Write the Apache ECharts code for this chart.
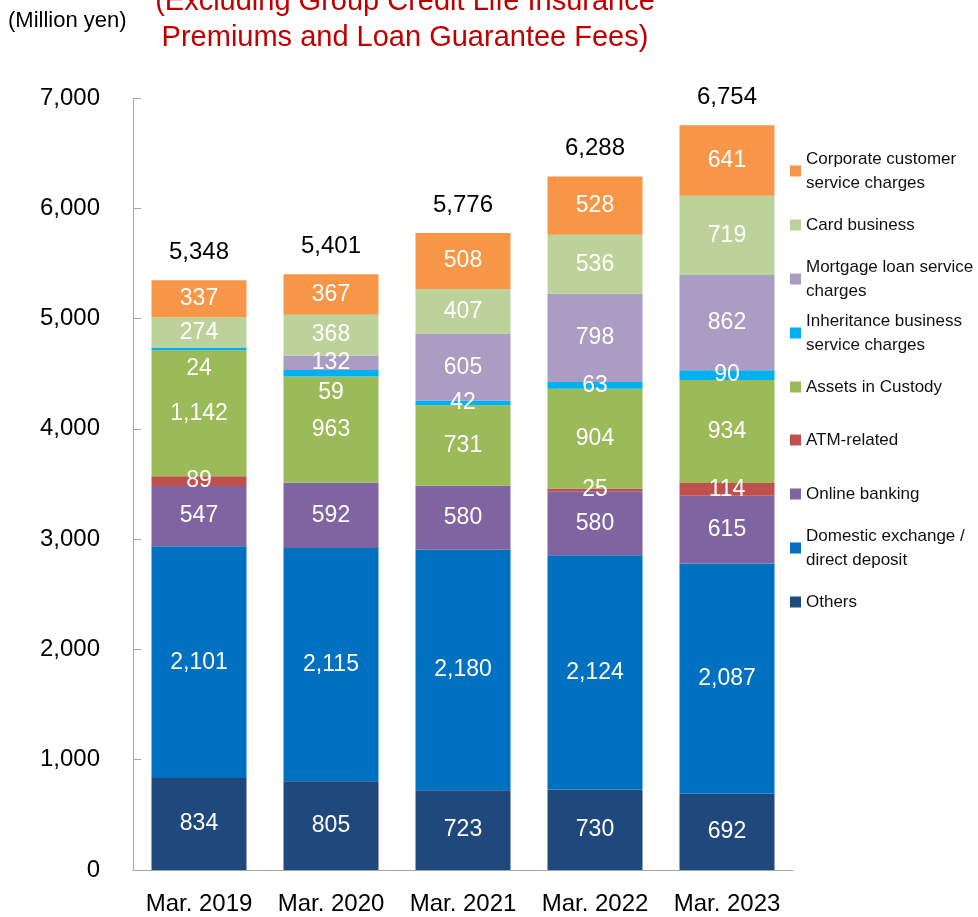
<!DOCTYPE html>
<html>
<head>
<meta charset="utf-8">
<script src="https://cdn.jsdelivr.net/npm/echarts@6/dist/echarts.min.js"></script>
<style>
  html, body { margin: 0; padding: 0; background: #fff; }
  #myChart { width: 978px; height: 917px; }
</style>
</head>
<body>
<div id="myChart"></div>
<script>
// 年度
const years = ["Mar. 2019", "Mar. 2020", "Mar. 2021", "Mar. 2022", "Mar. 2023"];

// 各項目（下から積み上げ）
const others = [834, 805, 723, 730, 692];
const domestic = [2101, 2115, 2180, 2124, 2087];
const online = [547, 592, 580, 580, 615];
const atm = [89, 0, 0, 25, 114];
const custody = [1142, 963, 731, 904, 934];
const inheritance = [24, 59, 42, 63, 90];
const mortgage = [0, 132, 605, 798, 862];
const card = [274, 368, 407, 536, 719];
const corporate = [337, 367, 508, 528, 641];

// 合計
const totals = [5348, 5401, 5776, 6288, 6754];

// y軸
const yTicks = [0, 1000, 2000, 3000, 4000, 5000, 6000, 7000];

const FONT = '"Liberation Sans", Arial, sans-serif';
const fmt = (v) => Number(v).toLocaleString("en-US");

const seriesDefs = [
  { name: "Others", data: others, color: "#1F497D" },
  { name: "Domestic exchange /\ndirect deposit", data: domestic, color: "#0070C0" },
  { name: "Online banking", data: online, color: "#8064A2" },
  { name: "ATM-related", data: atm, color: "#C0504D" },
  { name: "Assets in Custody", data: custody, color: "#9BBB59" },
  { name: "Inheritance business\nservice charges", data: inheritance, color: "#00B0F0" },
  { name: "Mortgage loan service\ncharges", data: mortgage, color: "#AA9CC2" },
  { name: "Card business", data: card, color: "#BDD29B" },
  { name: "Corporate customer\nservice charges", data: corporate, color: "#F79646" },
];

// 小さい区分のラベル位置を少しずらす
const labelNudge = { "Inheritance business\nservice charges": { 0: 20, 1: 19 } };

// 凡例の縦位置（アイコン中心）
const legendOrder = [
  ["Corporate customer\nservice charges", 171],
  ["Card business", 225],
  ["Mortgage loan service\ncharges", 279],
  ["Inheritance business\nservice charges", 333],
  ["Assets in Custody", 387],
  ["ATM-related", 440],
  ["Online banking", 494],
  ["Domestic exchange /\ndirect deposit", 548],
  ["Others", 602],
];

const LH = 24;
const legends = legendOrder.map(([name, cy]) => {
  const twoLine = name.indexOf("\n") >= 0;
  return {
    data: [{ name: name, icon: "rect" }],
    orient: "vertical",
    left: 790,
    top: twoLine ? cy - 36 : cy - 12,
    padding: 0,
    itemWidth: 11,
    itemHeight: 11,
    selectedMode: false,
    textStyle: {
      fontFamily: FONT,
      fontSize: 17,
      lineHeight: LH,
      color: "#111",
      padding: twoLine ? [LH, 0, 0, 0] : 0,
    },
  };
});

const series = seriesDefs.map((s) => ({
  name: s.name,
  type: "bar",
  stack: "total",
  barWidth: 95,
  itemStyle: { color: s.color },
  data: s.data.map((v, i) => {
    const item = { value: v };
    const n = labelNudge[s.name];
    if (n && n[i] !== undefined) item.label = { offset: [0, n[i]] };
    return item;
  }),
  label: {
    show: true,
    position: "inside",
    color: "#fff",
    fontFamily: FONT,
    fontSize: 23,
    formatter: (p) => (p.value ? fmt(p.value) : ""),
  },
}));

// 合計ラベル
series.push({
  name: "total",
  type: "bar",
  stack: "total",
  barWidth: 95,
  itemStyle: { color: "transparent" },
  data: totals.map(() => 0),
  label: {
    show: true,
    position: "top",
    distance: 16,
    color: "#000",
    fontFamily: FONT,
    fontSize: 24,
    formatter: (p) => fmt(totals[p.dataIndex]),
  },
});

let myChart = echarts.init(document.getElementById("myChart"));
myChart.setOption({
  animation: false,
  title: {
    text: "(Excluding Group Credit Life Insurance\nPremiums and Loan Guarantee Fees)",
    left: 405,
    textAlign: "center",
    top: -16,
    padding: 0,
    textStyle: {
      color: "#C00000",
      fontFamily: FONT,
      fontWeight: "normal",
      fontSize: 29,
      lineHeight: 36,
    },
  },
  graphic: [
    {
      type: "text",
      left: 8,
      top: 10,
      style: { text: "(Million yen)", fontFamily: FONT, fontSize: 22, fill: "#000" },
    },
  ],
  legend: legends,
  grid: { left: 133, right: 185, top: 98, bottom: 47, containLabel: false },
  xAxis: {
    type: "category",
    data: years,
    axisLine: { lineStyle: { color: "#A6A6A6", width: 1 } },
    axisTick: { show: false },
    axisLabel: { color: "#000", fontFamily: FONT, fontSize: 24, margin: 22, interval: 0 },
  },
  yAxis: {
    type: "value",
    min: yTicks[0],
    max: yTicks[yTicks.length - 1],
    interval: 1000,
    splitLine: { show: false },
    axisLine: { show: true, lineStyle: { color: "#A6A6A6", width: 1 } },
    axisTick: { show: true, inside: true, length: 8, lineStyle: { color: "#A6A6A6" } },
    axisLabel: { color: "#000", fontFamily: FONT, fontSize: 24, margin: 33, formatter: (v) => fmt(v) },
  },
  series: series,
});
</script>
</body>
</html>
